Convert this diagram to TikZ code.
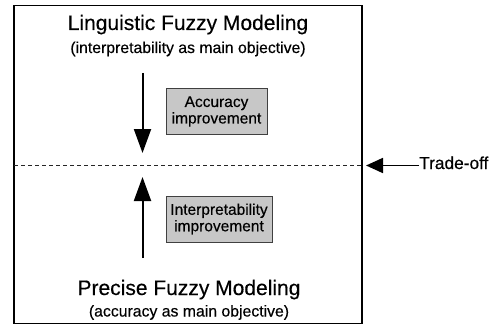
\documentclass[tikz,border=0pt]{standalone}
\usepackage{fontspec}
\setmainfont[FakeBold=0.35]{Liberation Sans}
\usetikzlibrary{arrows.meta}
\begin{document}
\begin{tikzpicture}[x=1pt,y=-1pt,
  titletext/.style={anchor=base,inner sep=0pt,font=\fontsize{21}{24}\selectfont},
  subtext/.style={anchor=base,inner sep=0pt,font=\fontsize{15.8}{18}\selectfont},
  graybox/.style={draw=black!75,line width=1pt,fill=black!22,align=center,inner sep=0pt,
    font=\fontsize{15.5}{16.5}\selectfont},
  bigarrow/.style={line width=2pt,-{Triangle[width=17pt,length=24pt]}},
  tradearrow/.style={line width=1.8pt,-{Triangle[width=15pt,length=17pt]}}]
\useasboundingbox (0,0) rectangle (502,326);
\node[draw,line width=1.3pt,minimum width=348pt,minimum height=318pt,inner sep=0pt] (frame) at (188,164.5) {};
\coordinate (dl) at (14,165.5);
\coordinate (dr) at (362,165.5);
\draw[line width=0.9pt,black!85,dash pattern=on 4pt off 3pt] (dl) -- (dr);
\node[titletext] (ltitle) at (188,30) {Linguistic Fuzzy Modeling};
\node[subtext] (lsub) at (188,53) {(interpretability as main objective)};
\node[titletext] (ptitle) at (189,295) {Precise Fuzzy Modeling};
\node[subtext] (psub) at (189,316.5) {(accuracy as main objective)};
\node[graybox,minimum width=101pt,minimum height=45pt] (acc) at (216.5,111.5) {Accuracy\\improvement};
\node[graybox,minimum width=106pt,minimum height=46pt] (interp) at (219,219) {Interpretability\\improvement};
\coordinate (dtop) at (142.5,73);
\coordinate (dtip) at (142.5,153);
\coordinate (ubot) at (142.5,258);
\coordinate (utip) at (142.5,177);
\draw[bigarrow] (dtop) -- (dtip);
\draw[bigarrow] (ubot) -- (utip);
\node[anchor=base west,inner sep=0pt,font=\fontsize{17.3}{20}\selectfont] (trade) at (419,169) {Trade-off};
\coordinate (ttip) at (366,165.5);
\draw[tradearrow] (trade.west |- ttip) -- (ttip);
\end{tikzpicture}
\end{document}
